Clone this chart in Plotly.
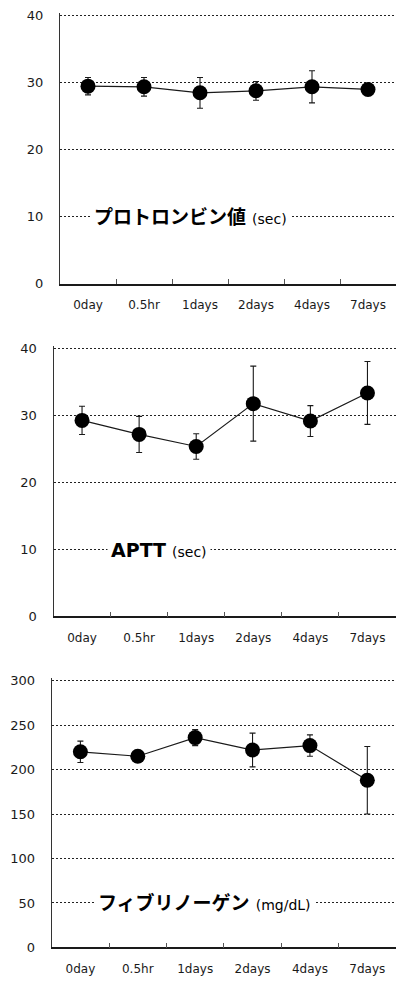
import plotly.graph_objects as go

categories = ["0day", "0.5hr", "1days", "2days", "4days", "7days"]

pt_mean = [29.5, 29.4, 28.5, 28.8, 29.4, 29.0]
pt_sd = [1.3, 1.4, 2.3, 1.4, 2.4, 0.4]

aptt_mean = [29.3, 27.2, 25.4, 31.8, 29.2, 33.4]
aptt_sd = [2.1, 2.7, 1.9, 5.6, 2.3, 4.7]

fib_mean = [220, 215, 236, 222, 227, 188]
fib_sd = [12, 5, 9, 19, 12, 38]

pt_ticks = [0, 10, 20, 30, 40]
aptt_ticks = [0, 10, 20, 30, 40]
fib_ticks = [0, 50, 100, 150, 200, 250, 300]

W, H = 396, 988
INK = "#1a1a1a"
LAT = "DejaVu Sans, Noto Sans CJK JP"
PAD = 3  # px of headroom so the top gridline is not clipped

panels = [
    dict(mean=pt_mean, sd=pt_sd, ticks=pt_ticks, top=12, bot=283, left=60,
         label="<b>プロトロンビン値</b> <span style='font-size:14px'>(sec)</span>", lx=93),
    dict(mean=aptt_mean, sd=aptt_sd, ticks=aptt_ticks, top=349, bot=620, left=53.5,
         label="<b>APTT</b> <span style='font-size:14px'>(sec)</span>", lx=110),
    dict(mean=fib_mean, sd=fib_sd, ticks=fib_ticks, top=685, bot=955, left=51.7,
         label="<b>フィブリノーゲン</b> <span style='font-size:14px'>(mg/dL)</span>", lx=97),
]

fig = go.Figure()
layout = dict(
    width=W, height=H, autosize=False,
    margin=dict(l=0, r=0, t=0, b=0),
    paper_bgcolor="white", plot_bgcolor="white",
    showlegend=False,
    font=dict(family=LAT, color=INK),
    annotations=[],
)

for i, p in enumerate(panels, start=1):
    xa = "x" if i == 1 else f"x{i}"
    ya = "y" if i == 1 else f"y{i}"
    fig.add_trace(go.Scatter(
        x=categories, y=p["mean"], xaxis=xa, yaxis=ya,
        mode="lines+markers",
        line=dict(color=INK, width=1.2),
        marker=dict(color="black", size=15),
        error_y=dict(type="data", array=p["sd"], visible=True,
                     color=INK, thickness=1.1, width=3),
        cliponaxis=False,
    ))
    top_val = p["ticks"][-1]
    span = p["bot"] - p["top"]
    dom_x = [p["left"] / W, 1]
    dom_y = [1 - p["bot"] / H, 1 - (p["top"] - PAD) / H]
    layout[f"xaxis{'' if i == 1 else i}"] = dict(
        domain=dom_x, anchor=ya, type="category",
        categoryorder="array", categoryarray=categories,
        range=[-0.5, 5.5],
        showline=True, linecolor=INK, linewidth=1.5,
        showgrid=False, zeroline=False,
        ticks="inside", tickson="boundaries", ticklen=5, tickcolor="#555", tickwidth=1,
        tickfont=dict(family=LAT, size=12, color=INK),
        ticklabelstandoff=9,
        fixedrange=True,
    )
    layout[f"yaxis{'' if i == 1 else i}"] = dict(
        domain=dom_y, anchor=xa, range=[0, top_val * (span + PAD) / span],
        tickvals=p["ticks"],
        showline=True, linecolor="#333", linewidth=1,
        showgrid=True, gridcolor="#222", gridwidth=1, griddash="2px,2px",
        zeroline=False, ticks="",
        tickfont=dict(family=LAT, size=13, color=INK),
        ticklabelstandoff=13,
        fixedrange=True,
    )
    mid = p["ticks"][1]
    layout["annotations"].append(dict(
        xref=f"{xa} domain", yref=ya,
        x=(p["lx"] - p["left"] - 3) / (W - p["left"]), y=mid,
        xanchor="left", yanchor="middle",
        text=p["label"], showarrow=False,
        font=dict(family=LAT, size=19, color="black"),
        bgcolor="white", borderpad=3,
    ))

fig.update_layout(**layout)
fig.write_html(
    "out.html",
    config={"displayModeBar": False},
    post_script="document.body.style.margin='0';document.body.style.overflow='hidden';",
)
